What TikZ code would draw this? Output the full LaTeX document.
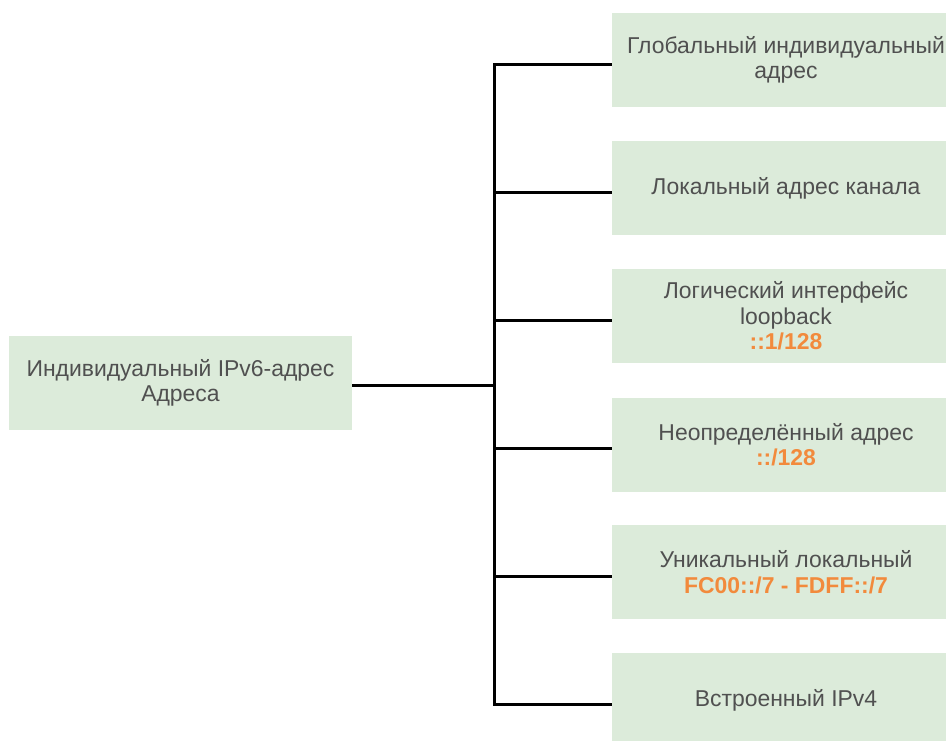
\documentclass[tikz,border=0pt]{standalone}
\usepackage{fontspec}
\setmainfont{Liberation Sans}
\definecolor{boxfill}{HTML}{DCEBDA}
\definecolor{txt}{HTML}{505050}
\definecolor{accent}{HTML}{F28A3C}
\newcommand{\addr}[1]{\textcolor{accent}{\bfseries #1}}
\begin{document}
\begin{tikzpicture}[x=0.75pt,y=-0.75pt,
  box/.style={fill=boxfill, text=txt, align=center, inner sep=0pt,
    minimum height=70.5pt, font=\fontsize{17.2}{19.1}\selectfont},
  rbox/.style={box, minimum width=261pt},
  lbox/.style={box, minimum width=257.25pt},
  conn/.style={line width=2.25pt, black}]
\useasboundingbox (0,0) rectangle (946,740);
\clip (0,0) rectangle (946,740);
\fill[white] (0,0) rectangle (946,740);
\node[lbox] (root) at (180.5,383) {Индивидуальный IPv6-адрес\\Адреса};
\node[rbox] (g) at (786,60) {Глобальный индивидуальный\\адрес};
\node[rbox] (l) at (786,188) {Локальный адрес канала};
\node[rbox] (lo) at (786,316) {Логический интерфейс\\loopback\\\addr{::1/128}};
\node[rbox] (u) at (786,444.5) {Неопределённый адрес\\\addr{::/128}};
\node[rbox] (ul) at (786,572) {Уникальный локальный\\\addr{FC00::/7 - FDFF::/7}};
\node[rbox] (e) at (786,700) {Встроенный IPv4};
\coordinate (bus) at (494,385);
\path ([yshift=-1.5pt]root.east) coordinate (rj);
\path ([yshift=-3pt]g.west) coordinate (gj);
\path ([yshift=-3pt]l.west) coordinate (lj);
\path ([yshift=-3pt]lo.west) coordinate (loj);
\path ([yshift=-3pt]u.west) coordinate (uj);
\path ([yshift=-3pt]ul.west) coordinate (ulj);
\path ([yshift=-3pt]e.west) coordinate (ej);
\draw[conn] (rj) -- (rj -| bus);
\draw[conn] (gj) -| (bus) |- (ej);
\draw[conn] (lj -| bus) -- (lj);
\draw[conn] (loj -| bus) -- (loj);
\draw[conn] (uj -| bus) -- (uj);
\draw[conn] (ulj -| bus) -- (ulj);
\end{tikzpicture}
\end{document}
